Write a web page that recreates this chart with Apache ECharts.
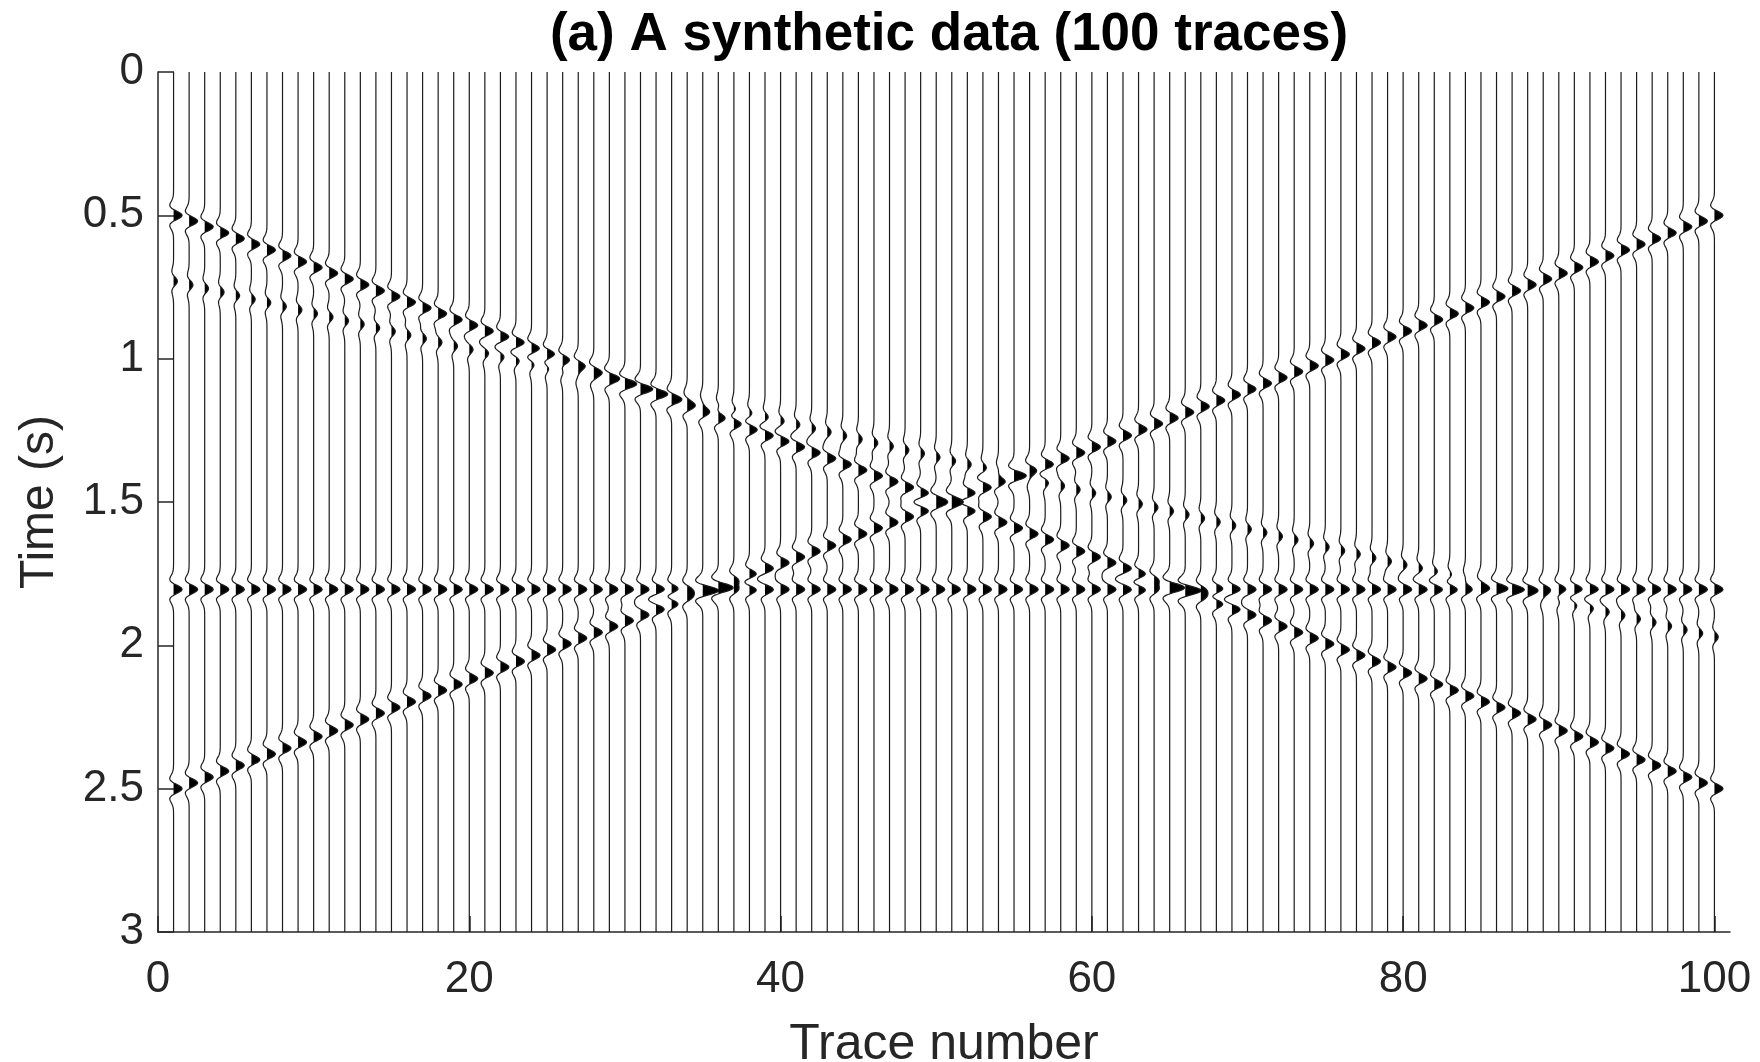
<!DOCTYPE html>
<html>
<head>
<meta charset="utf-8">
<title>Synthetic wiggle section</title>
<script src="https://cdn.jsdelivr.net/npm/echarts@6/dist/echarts.min.js"></script>
<style>
  html, body { margin: 0; padding: 0; background: #ffffff; }
  #chart { width: 1760px; height: 1062px; }
</style>
</head>
<body>
<div id="chart"></div>
<script>
// ---- data -------------------------------------------------------------
const traceNumbers = [
  1, 2, 3, 4, 5, 6, 7, 8, 9, 10,
  11, 12, 13, 14, 15, 16, 17, 18, 19, 20,
  21, 22, 23, 24, 25, 26, 27, 28, 29, 30,
  31, 32, 33, 34, 35, 36, 37, 38, 39, 40,
  41, 42, 43, 44, 45, 46, 47, 48, 49, 50,
  51, 52, 53, 54, 55, 56, 57, 58, 59, 60,
  61, 62, 63, 64, 65, 66, 67, 68, 69, 70,
  71, 72, 73, 74, 75, 76, 77, 78, 79, 80,
  81, 82, 83, 84, 85, 86, 87, 88, 89, 90,
  91, 92, 93, 94, 95, 96, 97, 98, 99, 100
];
const xTickValues = [0, 20, 40, 60, 80, 100];
const yTickValues = [0, 0.5, 1, 1.5, 2, 2.5, 3];

// arrival time (s) of each event on every trace
const downDipTimes = [
  0.500, 0.520, 0.540, 0.561, 0.581, 0.601, 0.621, 0.641, 0.662, 0.682,
  0.702, 0.722, 0.742, 0.763, 0.783, 0.803, 0.823, 0.843, 0.864, 0.884,
  0.904, 0.924, 0.944, 0.965, 0.985, 1.005, 1.025, 1.045, 1.066, 1.086,
  1.106, 1.126, 1.146, 1.167, 1.187, 1.207, 1.227, 1.247, 1.268, 1.288,
  1.308, 1.328, 1.348, 1.369, 1.389, 1.409, 1.429, 1.449, 1.470, 1.490,
  1.510, 1.530, 1.551, 1.571, 1.591, 1.611, 1.631, 1.652, 1.672, 1.692,
  1.712, 1.732, 1.753, 1.773, 1.793, 1.813, 1.833, 1.854, 1.874, 1.894,
  1.914, 1.934, 1.955, 1.975, 1.995, 2.015, 2.035, 2.056, 2.076, 2.096,
  2.116, 2.136, 2.157, 2.177, 2.197, 2.217, 2.237, 2.258, 2.278, 2.298,
  2.318, 2.338, 2.359, 2.379, 2.399, 2.419, 2.439, 2.460, 2.480, 2.500
];
const upDipTimes = [
  2.500, 2.480, 2.460, 2.439, 2.419, 2.399, 2.379, 2.359, 2.338, 2.318,
  2.298, 2.278, 2.258, 2.237, 2.217, 2.197, 2.177, 2.157, 2.136, 2.116,
  2.096, 2.076, 2.056, 2.035, 2.015, 1.995, 1.975, 1.955, 1.934, 1.914,
  1.894, 1.874, 1.854, 1.833, 1.813, 1.793, 1.773, 1.753, 1.732, 1.712,
  1.692, 1.672, 1.652, 1.631, 1.611, 1.591, 1.571, 1.551, 1.530, 1.510,
  1.490, 1.470, 1.449, 1.429, 1.409, 1.389, 1.369, 1.348, 1.328, 1.308,
  1.288, 1.268, 1.247, 1.227, 1.207, 1.187, 1.167, 1.146, 1.126, 1.106,
  1.086, 1.066, 1.045, 1.025, 1.005, 0.985, 0.965, 0.944, 0.924, 0.904,
  0.884, 0.864, 0.843, 0.823, 0.803, 0.783, 0.763, 0.742, 0.722, 0.702,
  0.682, 0.662, 0.641, 0.621, 0.601, 0.581, 0.561, 0.540, 0.520, 0.500
];
const flatTimes = [
  1.805, 1.805, 1.805, 1.805, 1.805, 1.805, 1.805, 1.805, 1.805, 1.805,
  1.805, 1.805, 1.805, 1.805, 1.805, 1.805, 1.805, 1.805, 1.805, 1.805,
  1.805, 1.805, 1.805, 1.805, 1.805, 1.805, 1.805, 1.805, 1.805, 1.805,
  1.805, 1.805, 1.805, 1.805, 1.805, 1.805, 1.805, 1.805, 1.805, 1.805,
  1.805, 1.805, 1.805, 1.805, 1.805, 1.805, 1.805, 1.805, 1.805, 1.805,
  1.805, 1.805, 1.805, 1.805, 1.805, 1.805, 1.805, 1.805, 1.805, 1.805,
  1.805, 1.805, 1.805, 1.805, 1.805, 1.805, 1.805, 1.805, 1.805, 1.805,
  1.805, 1.805, 1.805, 1.805, 1.805, 1.805, 1.805, 1.805, 1.805, 1.805,
  1.805, 1.805, 1.805, 1.805, 1.805, 1.805, 1.805, 1.805, 1.805, 1.805,
  1.805, 1.805, 1.805, 1.805, 1.805, 1.805, 1.805, 1.805, 1.805, 1.805
];
// weaker, gentler dipping event
const weakDipTimes = [
  0.730, 0.743, 0.755, 0.768, 0.780, 0.793, 0.805, 0.818, 0.830, 0.843,
  0.855, 0.868, 0.880, 0.893, 0.905, 0.918, 0.930, 0.943, 0.956, 0.968,
  0.981, 0.993, 1.006, 1.018, 1.031, 1.043, 1.056, 1.068, 1.081, 1.093,
  1.106, 1.118, 1.131, 1.143, 1.156, 1.169, 1.181, 1.194, 1.206, 1.219,
  1.231, 1.244, 1.256, 1.269, 1.281, 1.294, 1.306, 1.319, 1.331, 1.344,
  1.357, 1.369, 1.382, 1.394, 1.407, 1.419, 1.432, 1.444, 1.457, 1.469,
  1.482, 1.494, 1.507, 1.519, 1.532, 1.544, 1.557, 1.570, 1.582, 1.595,
  1.607, 1.620, 1.632, 1.645, 1.657, 1.670, 1.682, 1.695, 1.707, 1.720,
  1.732, 1.745, 1.758, 1.770, 1.783, 1.795, 1.808, 1.820, 1.833, 1.845,
  1.858, 1.870, 1.883, 1.895, 1.908, 1.920, 1.933, 1.946, 1.958, 1.971
];
// peak amplitude of each event: down-dip, up-dip, flat, weak dip
const eventAmplitudes = [1.0, 1.0, 1.0, 0.45];

// Ricker-type wavelet, samples every 0.005 s from -0.09 s to +0.09 s
const waveletSamples = [
  -0.001, -0.003, -0.0069, -0.015, -0.0307, -0.0586, -0.1031, -0.1679, -0.251,
  -0.3415, -0.4174, -0.4459, -0.3925, -0.2337, 0.0275, 0.3535, 0.6754, 0.9126,
  1.0,
  0.9126, 0.6754, 0.3535, 0.0275, -0.2337, -0.3925, -0.4459, -0.4174, -0.3415,
  -0.251, -0.1679, -0.1031, -0.0586, -0.0307, -0.015, -0.0069, -0.003, -0.001
];

// ---- trace synthesis ------------------------------------------------------
const events = [
  { times: downDipTimes, amp: eventAmplitudes[0] },
  { times: upDipTimes, amp: eventAmplitudes[1] },
  { times: flatTimes, amp: eventAmplitudes[2] },
  { times: weakDipTimes, amp: eventAmplitudes[3] }
];
const T_MAX = 3;
const DT = 0.0025;
const NT = Math.round(T_MAX / DT) + 1;
const WAVELET_DT = 0.005;
const WAVELET_CENTER = (waveletSamples.length - 1) / 2;
const WAVELET_SPAN = WAVELET_CENTER * WAVELET_DT;
const GAIN = 0.55;            // trace-spacing units per unit amplitude

function waveletAt(s) {
  const u = s / WAVELET_DT + WAVELET_CENTER;
  if (u < 0 || u >= waveletSamples.length - 1) return 0;
  const i = Math.floor(u);
  const f = u - i;
  return waveletSamples[i] * (1 - f) + waveletSamples[i + 1] * f;
}

function traceValues(idx) {
  const v = new Array(NT).fill(0);
  events.forEach(function (ev) {
    const tau = ev.times[idx];
    const i0 = Math.max(0, Math.floor((tau - WAVELET_SPAN) / DT));
    const i1 = Math.min(NT - 1, Math.ceil((tau + WAVELET_SPAN) / DT));
    for (let i = i0; i <= i1; i++) v[i] += ev.amp * waveletAt(i * DT - tau);
  });
  return v;
}

const traceCache = {};

function renderTrace(params, api) {
  const idx = params.dataIndex;
  const n = api.value(0);
  const v = traceCache[idx] || (traceCache[idx] = traceValues(idx));
  const line = [];
  const fill = [];
  for (let i = 0; i < NT; i++) {
    const t = i * DT;
    line.push(api.coord([n + v[i] * GAIN, t]));
    fill.push(api.coord([n + Math.max(v[i], 0) * GAIN, t]));
  }
  fill.push(api.coord([n, T_MAX]));
  fill.push(api.coord([n, 0]));
  return {
    type: 'group',
    children: [
      { type: 'polygon', shape: { points: fill }, style: { fill: '#000000', stroke: null } },
      { type: 'polyline', shape: { points: line }, style: { stroke: '#1c1c1c', lineWidth: 1.2, fill: null } }
    ]
  };
}

// ---- chart ---------------------------------------------------------------
const FONT = '"Liberation Sans", Arial, Helvetica, sans-serif';
const INK = '#262626';

const chart = echarts.init(document.getElementById('chart'), null, { renderer: 'canvas' });
chart.setOption({
  backgroundColor: '#ffffff',
  animation: false,
  title: {
    text: '(a) A synthetic data (100 traces)',
    left: 944,
    top: 4,
    textAlign: 'center',
    textStyle: { fontFamily: FONT, fontSize: 53, fontWeight: 'bold', color: '#000000' }
  },
  grid: { left: 158, top: 72, right: 30, bottom: 130, containLabel: false, outerBoundsMode: 'none' },
  xAxis: {
    type: 'value',
    min: 0,
    max: 101,
    interval: 20,
    name: 'Trace number',
    nameLocation: 'middle',
    nameGap: 88,
    nameTextStyle: { fontFamily: FONT, fontSize: 50, color: INK },
    axisLine: { show: true, onZero: false, lineStyle: { color: INK, width: 1.5 } },
    axisTick: { show: true, inside: true, length: 16, customValues: xTickValues, lineStyle: { color: INK, width: 1.5 } },
    axisLabel: { customValues: xTickValues, margin: 26, fontFamily: FONT, fontSize: 44, color: INK },
    splitLine: { show: false }
  },
  yAxis: {
    type: 'value',
    min: 0,
    max: 3,
    interval: 0.5,
    inverse: true,
    name: 'Time (s)',
    nameLocation: 'middle',
    nameGap: 94,
    nameTextStyle: { fontFamily: FONT, fontSize: 48, color: INK },
    axisLine: { show: true, onZero: false, lineStyle: { color: INK, width: 1.5 } },
    axisTick: { show: true, inside: true, length: 16, customValues: yTickValues, lineStyle: { color: INK, width: 1.5 } },
    axisLabel: { customValues: yTickValues, margin: 14, fontFamily: FONT, fontSize: 44, color: INK },
    splitLine: { show: false }
  },
  series: [{
    type: 'custom',
    name: 'traces',
    coordinateSystem: 'cartesian2d',
    renderItem: renderTrace,
    clip: true,
    encode: { x: 0 },
    data: traceNumbers.map(function (n) { return [n]; })
  }]
});
</script>
</body>
</html>
